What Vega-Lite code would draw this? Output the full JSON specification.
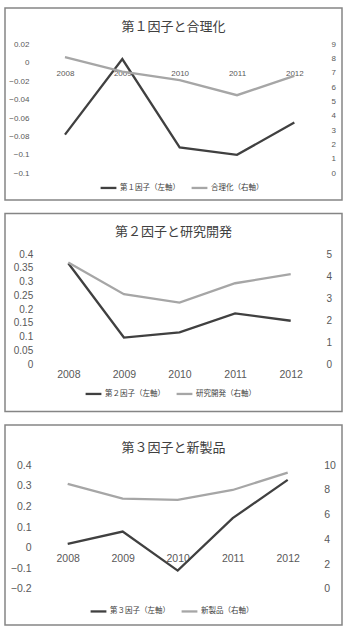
{
  "$schema": "https://vega.github.io/schema/vega-lite/v6.json",
  "padding": {"left": 4, "top": 7, "right": 0, "bottom": 0},
  "spacing": 11.5,
  "datasets": {
    "p1": [
      {"year": 2008, "series": "第１因子（左軸）", "value": -0.078},
      {"year": 2009, "series": "第１因子（左軸）", "value": 0.004},
      {"year": 2010, "series": "第１因子（左軸）", "value": -0.092},
      {"year": 2011, "series": "第１因子（左軸）", "value": -0.1},
      {"year": 2012, "series": "第１因子（左軸）", "value": -0.065},
      {"year": 2008, "series": "合理化（右軸）", "value": 8.1},
      {"year": 2009, "series": "合理化（右軸）", "value": 7.1},
      {"year": 2010, "series": "合理化（右軸）", "value": 6.5},
      {"year": 2011, "series": "合理化（右軸）", "value": 5.45},
      {"year": 2012, "series": "合理化（右軸）", "value": 6.8}
    ],
    "p2": [
      {"year": 2008, "series": "第２因子（左軸）", "value": 0.367},
      {"year": 2009, "series": "第２因子（左軸）", "value": 0.097},
      {"year": 2010, "series": "第２因子（左軸）", "value": 0.116},
      {"year": 2011, "series": "第２因子（左軸）", "value": 0.185},
      {"year": 2012, "series": "第２因子（左軸）", "value": 0.158},
      {"year": 2008, "series": "研究開発（右軸）", "value": 4.62},
      {"year": 2009, "series": "研究開発（右軸）", "value": 3.18},
      {"year": 2010, "series": "研究開発（右軸）", "value": 2.8},
      {"year": 2011, "series": "研究開発（右軸）", "value": 3.68},
      {"year": 2012, "series": "研究開発（右軸）", "value": 4.09}
    ],
    "p3": [
      {"year": 2008, "series": "第３因子（左軸）", "value": 0.018},
      {"year": 2009, "series": "第３因子（左軸）", "value": 0.078},
      {"year": 2010, "series": "第３因子（左軸）", "value": -0.112},
      {"year": 2011, "series": "第３因子（左軸）", "value": 0.143},
      {"year": 2012, "series": "第３因子（左軸）", "value": 0.329},
      {"year": 2008, "series": "新製品（右軸）", "value": 8.5},
      {"year": 2009, "series": "新製品（右軸）", "value": 7.3},
      {"year": 2010, "series": "新製品（右軸）", "value": 7.2},
      {"year": 2011, "series": "新製品（右軸）", "value": 8.0},
      {"year": 2012, "series": "新製品（右軸）", "value": 9.4}
    ],
    "g1": [{"tick": -0.12}, {"tick": -0.1}, {"tick": -0.08}, {"tick": -0.06}, {"tick": -0.04}, {"tick": -0.02}, {"tick": 0}, {"tick": 0.02}],
    "g2": [{"tick": 0}, {"tick": 0.05}, {"tick": 0.1}, {"tick": 0.15}, {"tick": 0.2}, {"tick": 0.25}, {"tick": 0.3}, {"tick": 0.35}, {"tick": 0.4}],
    "g3": [{"tick": -0.2}, {"tick": -0.1}, {"tick": 0}, {"tick": 0.1}, {"tick": 0.2}, {"tick": 0.3}, {"tick": 0.4}]
  },
  "vconcat": [
    {
      "width": 337,
      "height": 192,
      "title": {"text": "第１因子と合理化", "offset": -26},
      "encoding": {
        "x": {"field": "year", "type": "quantitative",
          "scale": {"domain": [2007.5, 2012.5], "range": [31.3, 318], "nice": false, "zero": false},
          "axis": {"orient": "bottom", "title": null, "grid": false, "values": [2008, 2009, 2010, 2011, 2012], "format": "d", "offset": -126.7, "labelBaseline": "middle", "labelFontSize": 8}}
      },
      "layer": [
        {
          "data": {"name": "g1"},
          "mark": {"type": "bar", "height": 1.5, "color": "#c4c4c4"},
          "encoding": {
            "x": {"datum": 2007.5, "type": "quantitative"},
            "x2": {"datum": 2012.5},
            "y": {"field": "tick", "type": "quantitative", "scale": {"domain": [-0.12, 0.02], "range": [165.3, 36.3], "nice": false, "zero": false}, "axis": null}
          }
        },
        {
          "data": {"name": "p1"},
          "transform": [{"filter": "datum.series == '第１因子（左軸）'"}],
          "mark": {"type": "line"},
          "encoding": {
            "y": {"field": "value", "type": "quantitative", "scale": {"domain": [-0.12, 0.02], "range": [165.3, 36.3], "nice": false, "zero": false},
              "axis": {"orient": "left", "title": null, "grid": false, "values": [-0.12, -0.1, -0.08, -0.06, -0.04, -0.02, 0, 0.02], "format": "~g", "labelPadding": -24, "labelFontSize": 8}},
            "color": {"field": "series", "type": "nominal",
              "scale": {"domain": ["第１因子（左軸）", "合理化（右軸）"], "range": ["#404040", "#a6a6a6"]},
              "legend": {"legendX": 94, "legendY": 170}}
          }
        },
        {
          "data": {"name": "p1"},
          "transform": [{"filter": "datum.series == '合理化（右軸）'"}],
          "mark": {"type": "line"},
          "encoding": {
            "y": {"field": "value", "type": "quantitative", "scale": {"domain": [0, 9], "range": [165.3, 36.3], "nice": false},
              "axis": {"orient": "right", "title": null, "grid": false, "values": [0, 1, 2, 3, 4, 5, 6, 7, 8, 9], "format": "d", "labelPadding": -11, "labelFontSize": 8}},
            "color": {"field": "series", "type": "nominal"}
          }
        }
      ],
      "resolve": {"scale": {"y": "independent"}}
    },
    {
      "width": 337,
      "height": 198,
      "title": {"text": "第２因子と研究開発", "offset": -25.5},
      "encoding": {
        "x": {"field": "year", "type": "quantitative",
          "scale": {"domain": [2007.5, 2012.5], "range": [35.5, 313.5], "nice": false, "zero": false},
          "axis": {"orient": "bottom", "title": null, "grid": false, "values": [2008, 2009, 2010, 2011, 2012], "format": "d", "offset": -36.7, "labelBaseline": "middle", "labelFontSize": 10.5}}
      },
      "layer": [
        {
          "data": {"name": "g2"},
          "mark": {"type": "bar", "height": 1.5, "color": "#c4c4c4"},
          "encoding": {
            "x": {"datum": 2007.5, "type": "quantitative"},
            "x2": {"datum": 2012.5},
            "y": {"field": "tick", "type": "quantitative", "scale": {"domain": [0, 0.4], "range": [150.7, 40.7], "nice": false}, "axis": null}
          }
        },
        {
          "data": {"name": "p2"},
          "transform": [{"filter": "datum.series == '第２因子（左軸）'"}],
          "mark": {"type": "line"},
          "encoding": {
            "y": {"field": "value", "type": "quantitative", "scale": {"domain": [0, 0.4], "range": [150.7, 40.7], "nice": false},
              "axis": {"orient": "left", "title": null, "grid": false, "values": [0, 0.05, 0.1, 0.15, 0.2, 0.25, 0.3, 0.35, 0.4], "format": "~g", "labelPadding": -27.7, "labelFontSize": 10}},
            "color": {"field": "series", "type": "nominal",
              "scale": {"domain": ["第２因子（左軸）", "研究開発（右軸）"], "range": ["#404040", "#a6a6a6"]},
              "legend": {"legendX": 79, "legendY": 170.5}}
          }
        },
        {
          "data": {"name": "p2"},
          "transform": [{"filter": "datum.series == '研究開発（右軸）'"}],
          "mark": {"type": "line"},
          "encoding": {
            "y": {"field": "value", "type": "quantitative", "scale": {"domain": [0, 5], "range": [150.7, 40.7], "nice": false},
              "axis": {"orient": "right", "title": null, "grid": false, "values": [0, 1, 2, 3, 4, 5], "format": "d", "labelPadding": -16, "labelFontSize": 10}},
            "color": {"field": "series", "type": "nominal"}
          }
        }
      ],
      "resolve": {"scale": {"y": "independent"}}
    },
    {
      "width": 337,
      "height": 200,
      "title": {"text": "第３因子と新製品", "offset": -30},
      "encoding": {
        "x": {"field": "year", "type": "quantitative",
          "scale": {"domain": [2007.5, 2012.5], "range": [35.2, 310.2], "nice": false, "zero": false},
          "axis": {"orient": "bottom", "title": null, "grid": false, "values": [2008, 2009, 2010, 2011, 2012], "format": "d", "offset": -66.7, "labelBaseline": "middle", "labelFontSize": 10.5}}
      },
      "layer": [
        {
          "data": {"name": "g3"},
          "mark": {"type": "bar", "height": 1.5, "color": "#c4c4c4"},
          "encoding": {
            "x": {"datum": 2007.5, "type": "quantitative"},
            "x2": {"datum": 2012.5},
            "y": {"field": "tick", "type": "quantitative", "scale": {"domain": [-0.2, 0.4], "range": [163.7, 40.3], "nice": false, "zero": false}, "axis": null}
          }
        },
        {
          "data": {"name": "p3"},
          "transform": [{"filter": "datum.series == '第３因子（左軸）'"}],
          "mark": {"type": "line"},
          "encoding": {
            "y": {"field": "value", "type": "quantitative", "scale": {"domain": [-0.2, 0.4], "range": [163.7, 40.3], "nice": false, "zero": false},
              "axis": {"orient": "left", "title": null, "grid": false, "values": [-0.2, -0.1, 0, 0.1, 0.2, 0.3, 0.4], "format": "~g", "labelPadding": -26, "labelFontSize": 10.5}},
            "color": {"field": "series", "type": "nominal",
              "scale": {"domain": ["第３因子（左軸）", "新製品（右軸）"], "range": ["#404040", "#a6a6a6"]},
              "legend": {"legendX": 84, "legendY": 176.5}}
          }
        },
        {
          "data": {"name": "p3"},
          "transform": [{"filter": "datum.series == '新製品（右軸）'"}],
          "mark": {"type": "line"},
          "encoding": {
            "y": {"field": "value", "type": "quantitative", "scale": {"domain": [0, 10], "range": [163.7, 40.3], "nice": false},
              "axis": {"orient": "right", "title": null, "grid": false, "values": [0, 2, 4, 6, 8, 10], "format": "d", "labelPadding": -18.3, "labelFontSize": 10.5}},
            "color": {"field": "series", "type": "nominal"}
          }
        }
      ],
      "resolve": {"scale": {"y": "independent"}}
    }
  ],
  "resolve": {"scale": {"color": "independent"}, "legend": {"color": "independent"}},
  "config": {
    "view": {"stroke": "#858585", "strokeWidth": 1.5},
    "title": {"font": "Noto Sans CJK JP", "fontSize": 13, "fontWeight": "normal", "color": "#404040", "anchor": "middle"},
    "axis": {"domain": false, "ticks": false, "labelPadding": 0, "labelColor": "#595959", "labelFont": "Liberation Sans"},
    "line": {"strokeWidth": 2.3, "strokeJoin": "miter"},
    "legend": {
      "orient": "none",
      "title": null,
      "direction": "horizontal",
      "symbolType": "stroke",
      "symbolSize": 250,
      "symbolStrokeWidth": 2.5,
      "labelFont": "Noto Sans CJK JP",
      "labelFontSize": 7.5,
      "labelColor": "#404040",
      "labelOffset": 2,
      "columnPadding": 6
    }
  }
}
